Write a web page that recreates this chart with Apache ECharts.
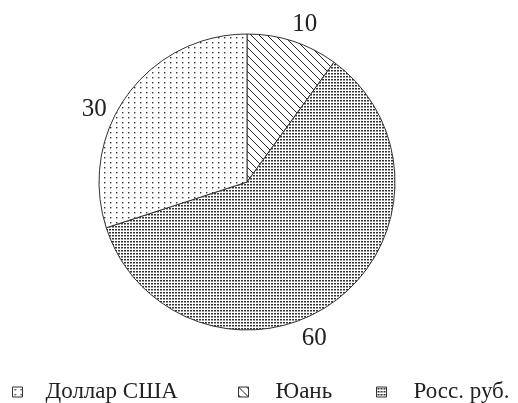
<!DOCTYPE html>
<html>
<head>
<meta charset="utf-8">
<script src="https://cdn.jsdelivr.net/npm/echarts@6/dist/echarts.min.js"></script>
<style>
  html, body { margin: 0; padding: 0; background: #fff; }
  #main { width: 518px; height: 403px; }
</style>
</head>
<body>
<div id="main"></div>
<script>
// данные (по часовой стрелке от верха)
var names = ['Юань', 'Росс. руб.', 'Доллар США'];
var values = [10, 60, 30];
var legendNames = ['Доллар США', 'Юань', 'Росс. руб.'];

// заливки-узоры
function makeTile(w, h, draw) {
  var c = document.createElement('canvas');
  c.width = w; c.height = h;
  var ctx = c.getContext('2d');
  ctx.fillStyle = '#fff';
  ctx.fillRect(0, 0, w, h);
  draw(ctx);
  return c;
}
var sparseDots = makeTile(6, 5, function (ctx) {
  ctx.fillStyle = '#333';
  ctx.fillRect(2, 2, 1.4, 1.4);
});
var denseDots = makeTile(3, 3, function (ctx) {
  ctx.fillStyle = '#333';
  ctx.fillRect(1, 1, 2, 1.5);
});
var hatch = makeTile(8, 8, function (ctx) {
  ctx.strokeStyle = '#222';
  ctx.lineWidth = 1;
  ctx.beginPath();
  ctx.moveTo(-1, -1); ctx.lineTo(9, 9);
  ctx.moveTo(-1, 7); ctx.lineTo(1, 9);
  ctx.moveTo(7, -1); ctx.lineTo(9, 1);
  ctx.stroke();
});
var fills = {
  'Юань': hatch,
  'Росс. руб.': denseDots,
  'Доллар США': sparseDots
};
// сдвиги подписей
var labelShift = [[-8, -9], [-42, 30], [-9, 19]];

var myChart = echarts.init(document.getElementById('main'));
var serif = '"Liberation Serif", "DejaVu Serif", serif';

var legendLeft = [12, 238, 376];
var legendPad = [18, 22, 22];
var legends = legendNames.map(function (n, i) {
  return {
    data: [n],
    left: legendLeft[i],
    top: 380,
    padding: 0,
    itemWidth: 10,
    itemHeight: 10,
    icon: 'rect',
    itemStyle: { borderColor: '#333', borderWidth: 1 },
    textStyle: { fontFamily: serif, fontSize: 23, lineHeight: 24, color: '#222', padding: [0, 0, 0, legendPad[i]] }
  };
});

myChart.setOption({
  backgroundColor: '#fff',
  animation: false,
  legend: legends,
  series: [{
    type: 'pie',
    center: [247, 182],
    radius: 148,
    startAngle: 90,
    clockwise: true,
    itemStyle: { borderColor: '#333', borderWidth: 1 },
    label: {
      show: true,
      position: 'outside',
      formatter: '{c}',
      fontFamily: serif,
      fontSize: 25,
      color: '#222'
    },
    labelLine: { show: false, length: 8, length2: 0 },
    labelLayout: function (p) {
      return { dx: labelShift[p.dataIndex][0], dy: labelShift[p.dataIndex][1] };
    },
    emphasis: { disabled: true },
    data: names.map(function (n, i) {
      return {
        name: n,
        value: values[i],
        itemStyle: { color: { image: fills[n], repeat: 'repeat' } }
      };
    })
  }]
});
</script>
</body>
</html>
